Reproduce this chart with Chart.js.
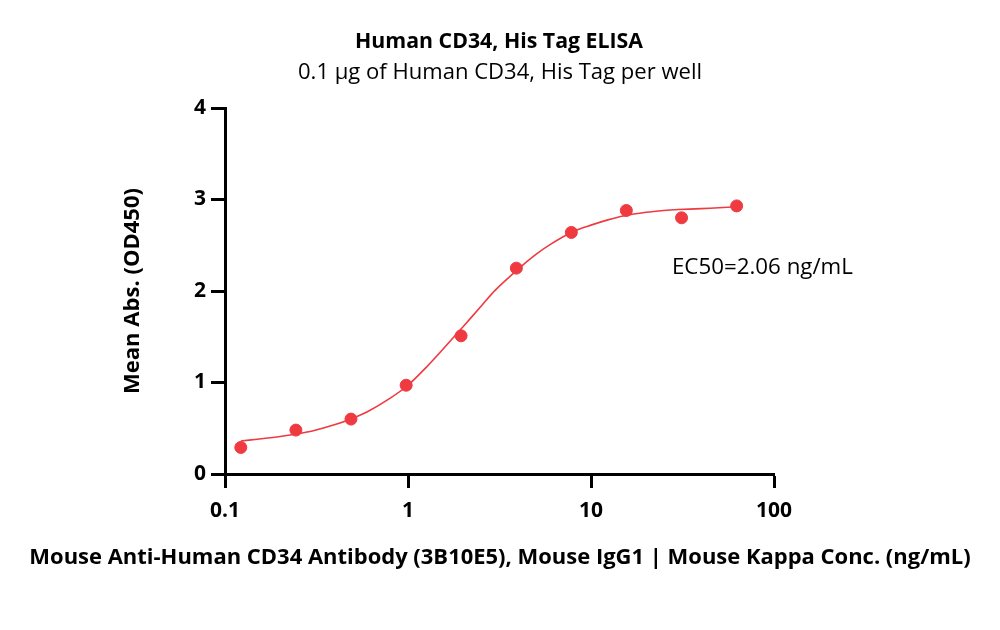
<!DOCTYPE html>
<html>
<head>
<meta charset="utf-8">
<script src="https://cdn.jsdelivr.net/npm/chart.js@4/dist/chart.umd.min.js"></script>
<style>
  html, body { margin: 0; padding: 0; background: #fff; }
  #wrap { width: 1000px; height: 630px; }
</style>
</head>
<body>
<div id="wrap"><canvas id="elisa" width="1000" height="630"></canvas></div>
<script>
// measured points (ng/mL vs OD450)
var concentrations = [0.122, 0.244, 0.488, 0.977, 1.95, 3.91, 7.81, 15.6, 31.25, 62.5];
var meanAbs = [0.29, 0.48, 0.60, 0.97, 1.51, 2.25, 2.64, 2.88, 2.80, 2.93];

// fitted curve
var curveX = [0.122, 0.15, 0.2, 0.25, 0.3, 0.4, 0.5, 0.6, 0.8, 1, 1.25, 1.5, 2, 2.5, 3, 4, 5, 6, 8, 10, 12.5, 15, 20, 25, 30, 40, 50, 62.5];
var curveY = [0.36, 0.38, 0.41, 0.44, 0.47, 0.54, 0.61, 0.68, 0.83, 0.97, 1.16, 1.33, 1.61, 1.83, 2.01, 2.24, 2.40, 2.51, 2.65, 2.72, 2.78, 2.82, 2.86, 2.88, 2.89, 2.90, 2.91, 2.92];

var xTicks = [0.1, 1, 10, 100];
var yTicks = [0, 1, 2, 3, 4];

var RED = '#EE3A40';
var FONT = '"Open Sans", Lato, sans-serif';

// draw text scaled so it spans the given width
function fitText(ctx, txt, weight, width, x, y) {
    ctx.font = weight + ' 20px ' + FONT;
    var size = 20 * width / ctx.measureText(txt).width;
    ctx.font = weight + ' ' + size.toFixed(2) + 'px ' + FONT;
    ctx.fillText(txt, x, y);
}

var textPlugin = {
    id: 'texts',
    afterDraw: function(chart) {
        var ctx = chart.ctx;
        var area = chart.chartArea;
        var xs = chart.scales.x, ys = chart.scales.y;
        ctx.save();
        ctx.fillStyle = '#000';
        ctx.textAlign = 'center';
        ctx.textBaseline = 'middle';
        fitText(ctx, 'Human CD34, His Tag ELISA', 'bold', 288, 499, 42);
        fitText(ctx, '0.1 \u00b5g of Human CD34, His Tag per well', 'normal', 404, 500, 73);
        fitText(ctx, 'Mouse Anti-Human CD34 Antibody (3B10E5), Mouse IgG1 | Mouse Kappa Conc. (ng/mL)', 'bold', 942, 500, 558);

        ctx.save();
        ctx.translate(133, (area.top + area.bottom) / 2);
        ctx.rotate(-Math.PI / 2);
        fitText(ctx, 'Mean Abs. (OD450)', 'bold', 206, 0, 0);
        ctx.restore();

        ctx.textAlign = 'left';
        fitText(ctx, 'EC50=2.06 ng/mL', 'normal', 181, xs.getPixelForValue(27.7), ys.getPixelForValue(2.25));
        ctx.restore();
    }
};

var points = concentrations.map(function(c, i){ return { x: c, y: meanAbs[i] }; });
var curve = curveX.map(function(c, i){ return { x: c, y: curveY[i] }; });

new Chart(document.getElementById('elisa'), {
    type: 'scatter',
    data: {
        datasets: [
            {
                label: 'fit',
                data: curve,
                showLine: true,
                borderColor: RED,
                borderWidth: 1.6,
                pointRadius: 0,
                tension: 0.3,
                order: 2
            },
            {
                label: 'Mean Abs.',
                data: points,
                backgroundColor: RED,
                borderColor: RED,
                pointRadius: 6,
                order: 1
            }
        ]
    },
    plugins: [textPlugin],
    options: {
        responsive: false,
        animation: false,
        devicePixelRatio: 1,
        layout: { padding: { left: 0, right: 226, top: 108, bottom: 0 } },
        plugins: {
            legend: { display: false },
            tooltip: { enabled: false }
        },
        scales: {
            x: {
                type: 'logarithmic',
                min: 0.1,
                max: 100,
                afterBuildTicks: function(scale) {
                    scale.ticks = xTicks.map(function(v){ return { value: v }; });
                },
                afterFit: function(scale) { scale.height = 156; },
                border: { display: true, color: '#000', width: 3 },
                grid: { display: true, drawOnChartArea: false, drawTicks: true, tickLength: 14, tickWidth: 3, tickColor: '#000' },
                ticks: {
                    color: '#000',
                    padding: 10,
                    maxRotation: 0,
                    font: { family: FONT, size: 21, weight: 'bold' },
                    callback: function(v){ return String(v); }
                }
            },
            y: {
                min: 0,
                max: 4,
                afterBuildTicks: function(scale) {
                    scale.ticks = yTicks.map(function(v){ return { value: v }; });
                },
                afterFit: function(scale) { scale.width = 225; },
                border: { display: true, color: '#000', width: 3 },
                grid: { display: true, drawOnChartArea: false, drawTicks: true, tickLength: 14, tickWidth: 3, tickColor: '#000' },
                ticks: {
                    color: '#000',
                    padding: 5,
                    font: { family: FONT, size: 21, weight: 'bold' }
                }
            }
        }
    }
});
</script>
</body>
</html>
